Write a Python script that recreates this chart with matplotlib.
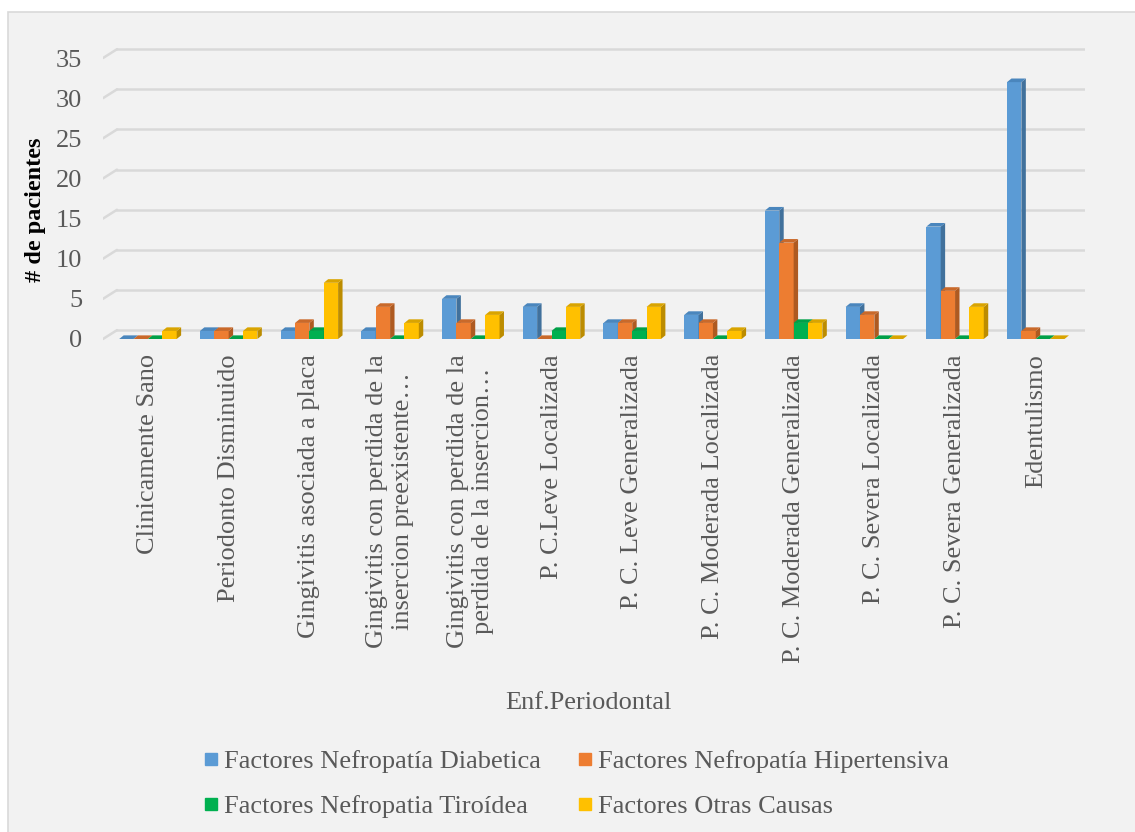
import matplotlib
matplotlib.use("Agg")
import matplotlib.pyplot as plt
from matplotlib.patches import Polygon, Rectangle
from matplotlib.lines import Line2D

plt.rcParams['font.family'] = ['Liberation Serif', 'DejaVu Serif']

# datos
categorias = ["Clinicamente Sano", "Periodonto Disminuido", "Gingivitis asociada a placa",
              "Gingivitis con perdida de la\ninsercion preexistente…",
              "Gingivitis con perdida de la\nperdida de la insercion…",
              "P. C.Leve Localizada", "P. C. Leve Generalizada", "P. C. Moderada Localizada",
              "P. C. Moderada Generalizada", "P. C. Severa Localizada",
              "P. C. Severa Generalizada", "Edentulismo"]
diabetica    = [0, 1, 1, 1, 5, 4, 2, 3, 16, 4, 14, 32]
hipertensiva = [0, 1, 2, 4, 2, 0, 2, 2, 12, 3, 6, 1]
tiroidea     = [0, 0, 1, 0, 0, 1, 1, 0, 2, 0, 0, 0]
otras        = [1, 1, 7, 2, 3, 4, 4, 1, 2, 0, 4, 0]
series_nombres = ["Factores Nefropatía Diabetica", "Factores Nefropatía Hipertensiva",
                  "Factores Nefropatia Tiroídea", "Factores Otras Causas"]
y_ticks = [0, 5, 10, 15, 20, 25, 30, 35]

colores = ["#5b9bd5", "#ed7d31", "#00b050", "#ffc000"]
lados   = ["#41719c", "#ae5a21", "#00813a", "#bc8c00"]
topes   = ["#4a86bd", "#c9692a", "#00a048", "#d9a400"]
texto = "#595959"
fs = 19

fig = plt.figure(figsize=(11.35, 8.32), dpi=100)
fig.patch.set_facecolor("white")
fondo = Rectangle((8 / 1135, -0.02), 1.0, 0.9856 + 0.02, transform=fig.transFigure,
                  facecolor="#f2f2f2", edgecolor="#d9d9d9", linewidth=1.2, zorder=-5)
fig.patches.append(fondo)

ax = fig.add_axes([103 / 1135, 1 - 343 / 832, (1085 - 103) / 1135, (343 - 46) / 832])
ax.set_zorder(2)
ax.patch.set_alpha(0)
ax.set_xlim(-0.557, 11.61)
ax.set_ylim(-0.5, 36.5)
for s in ax.spines.values():
    s.set_visible(False)

# lineas de division (pared del fondo en 3D)
x0, x1 = -0.557, -0.384
for v in y_ticks:
    ax.plot([x0, x1], [v, v + 1.1], color="#d9d9d9", lw=1.8, zorder=1, solid_capstyle="round")
    ax.plot([x1, 11.61], [v + 1.1, v + 1.1], color="#d9d9d9", lw=1.8, zorder=1)

w = 0.178
dx, dy = 0.055, 0.45
datos = [diabetica, hipertensiva, tiroidea, otras]
for s, vals in enumerate(datos):
    z = 2 + s
    for i, v in enumerate(vals):
        x = i + (s - 1.5) * w
        ax.bar(x, v, width=w, color=colores[s], zorder=z)
        r, l = x + w / 2, x - w / 2
        ax.add_patch(Polygon([(r, 0), (r + dx, dy), (r + dx, v + dy), (r, v)],
                             closed=True, facecolor=lados[s], edgecolor="none", zorder=z))
        ax.add_patch(Polygon([(l, v), (l + dx, v + dy), (r + dx, v + dy), (r, v)],
                             closed=True, facecolor=topes[s], edgecolor="none", zorder=z))

ax.set_yticks(y_ticks)
ax.set_yticklabels([str(t) for t in y_ticks], fontsize=fs, color=texto)
ax.set_xticks(range(len(categorias)))
ax.set_xticklabels(categorias, rotation=90, fontsize=fs, color=texto, va="top",
                   linespacing=1.2)
ax.tick_params(axis="y", length=0, pad=15)
ax.tick_params(axis="x", length=0, pad=8)

fig.text(35 / 1135, 1 - 210 / 832, "# de pacientes", rotation=90, fontsize=17.5,
         fontweight="bold", ha="center", va="center", color="black")
fig.text(588 / 1135, 1 - 703 / 832, "Enf.Periodontal", fontsize=fs, ha="center",
         va="center", color=texto)

handles = [Line2D([], [], marker="s", linestyle="none", markersize=8,
                  markerfacecolor=c, markeredgecolor=c) for c in colores]
orden = [0, 2, 1, 3]  # legend fills by column
fig.legend([handles[k] for k in orden], [series_nombres[k] for k in orden],
           loc="center", bbox_to_anchor=(0.508, 0.058), ncol=2,
           frameon=False, fontsize=fs, labelcolor=texto, handlelength=0.5,
           handletextpad=0.25, columnspacing=1.4, labelspacing=0.8)

fig.savefig("out.png", dpi=100)
